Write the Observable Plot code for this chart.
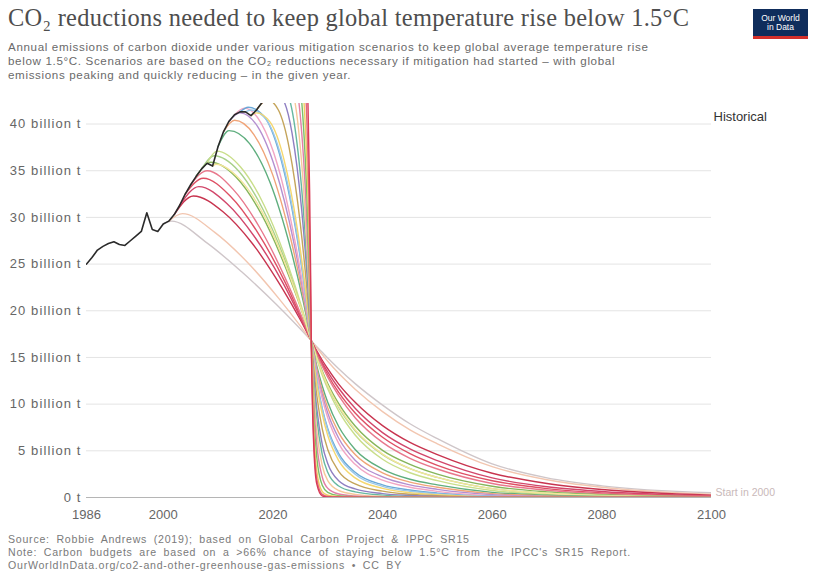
<!DOCTYPE html>
<html><head><meta charset="utf-8">
<script src="https://cdn.jsdelivr.net/npm/d3@7"></script>
<script src="https://cdn.jsdelivr.net/npm/@observablehq/plot@0.6"></script>
<style>
html,body{margin:0;padding:0;background:#fff;}
#wrap{position:relative;width:816px;height:575px;overflow:hidden;font-family:"Liberation Sans",Arial,sans-serif;}
#title{position:absolute;left:8px;top:4px;font-family:"Liberation Serif","DejaVu Serif",serif;font-size:24.4px;letter-spacing:0.3px;color:#4e4e4e;white-space:nowrap;}
#sub{position:absolute;left:8px;top:40px;font-size:11.6px;letter-spacing:0.65px;line-height:14px;color:#6a6a6a;white-space:nowrap;}
#logo{position:absolute;left:753px;top:9px;width:55px;height:30px;background:#0f2d5c;color:#fff;font-size:8.5px;line-height:9px;text-align:center;box-sizing:border-box;padding-top:5px;border-bottom:3px solid #d4302b;}
#chart{position:absolute;left:0;top:95px;}
#foot{position:absolute;left:8px;top:533px;font-size:10.6px;letter-spacing:0.75px;word-spacing:3px;line-height:13px;color:#7a7a7a;white-space:nowrap;}
</style></head>
<body>
<div id="wrap">
<div id="title">CO₂ reductions needed to keep global temperature rise below 1.5°C</div>
<div id="sub">Annual emissions of carbon dioxide under various mitigation scenarios to keep global average temperature rise<br>below 1.5°C. Scenarios are based on the CO₂ reductions necessary if mitigation had started – with global<br>emissions peaking and quickly reducing – in the given year.</div>
<div id="logo">Our World<br>in Data</div>
<div id="chart"></div>
<div id="foot">Source: Robbie Andrews (2019); based on Global Carbon Project &amp; IPPC SR15<br>Note: Carbon budgets are based on a &gt;66% chance of staying below 1.5°C from the IPCC's SR15 Report.<br>OurWorldInData.org/co2-and-other-greenhouse-gas-emissions • CC BY</div>
</div>
<script>
// Historical emissions (billion tonnes CO2)
const histYears = d3.range(1986, 2019);
const histValues = [25.0,25.7,26.5,26.9,27.2,27.4,27.1,27.0,27.5,28.0,28.5,30.5,28.7,28.5,29.3,29.6,30.3,31.3,32.5,33.5,34.4,35.2,35.8,35.5,37.6,39.2,40.3,41.0,41.3,41.3,40.9,41.5,42.3];

// Mitigation scenarios: [year, value]
const start2000 = [[2000,29.3],[2001.5,29.6],[2007.9,27.3],[2014.25,24.2],[2020.6,20.7],[2024.45,18.4],[2027,16.8],[2028,16.15],[2029,15.55],[2030,14.95],[2032,13.8],[2035,12.2],[2040,9.9],[2045,7.9],[2050,6.3],[2060,3.6],[2070,2.1],[2080,1.25],[2100,0.5]];
const start2001 = [[2001,29.6],[2003.5,30.4],[2009.4,28.4],[2015.25,25.25],[2021.1,21.3],[2024.65,18.65],[2027,16.8],[2028,16.05],[2029,15.3],[2030,14.6],[2032,13.3],[2035,11.6],[2040,9.2],[2045,7.25],[2050,5.75],[2060,3.3],[2070,1.9],[2080,1.1],[2100,0.35]];
const start2002 = [[2002,30.3],[2005.5,32.3],[2010.9,30.6],[2016.25,27.2],[2021.6,22.5],[2024.85,19.2],[2027,16.8],[2028,15.7],[2029,14.7],[2030,13.8],[2032,12.15],[2035,10.2],[2040,7.7],[2045,5.9],[2050,4.6],[2060,2.6],[2070,1.5],[2080,0.85],[2100,0.25]];
const start2003 = [[2003,31.3],[2006.5,33.3],[2011.6,31.5],[2016.75,27.85],[2021.9,22.9],[2024.95,19.35],[2027,16.8],[2028,15.55],[2029,14.45],[2030,13.45],[2032,11.7],[2035,9.55],[2040,6.95],[2045,5.2],[2050,3.95],[2060,2.1],[2070,1.15],[2080,0.65],[2100,0.18]];
const start2004 = [[2004,32.5],[2007.3,34.2],[2012.2,32.3],[2017.15,28.45],[2022.1,23.2],[2025,19.5],[2027,16.8],[2028,15.45],[2029,14.25],[2030,13.15],[2032,11.25],[2035,9.05],[2040,6.45],[2045,4.7],[2050,3.45],[2060,1.8],[2070,0.95],[2080,0.5],[2100,0.14]];
const start2005 = [[2005,33.5],[2008,35.0],[2012.75,33.0],[2017.5,29.0],[2022.25,23.5],[2025.1,19.6],[2027,16.8],[2028,15.35],[2029,14.05],[2030,12.9],[2032,10.9],[2035,8.55],[2040,5.9],[2045,4.2],[2050,3.05],[2060,1.5],[2070,0.78],[2080,0.4],[2100,0.1]];
const start2006 = [[2006,34.4],[2008.7,35.9],[2013.3,34.3],[2017.85,30.4],[2022.4,24.5],[2025.2,20.1],[2027,16.8],[2028,15.05],[2029,13.55],[2030,12.2],[2032,10.05],[2035,7.65],[2040,5.05],[2045,3.55],[2050,2.5],[2060,1.2],[2070,0.6],[2080,0.3],[2100,0.07]];
const start2007 = [[2007,35.2],[2009.3,36.6],[2013.7,35.0],[2018.15,30.9],[2022.6,24.8],[2025.25,20.2],[2027,16.8],[2028,14.95],[2029,13.35],[2030,11.95],[2032,9.65],[2035,7.15],[2040,4.6],[2045,3.1],[2050,2.15],[2060,0.95],[2070,0.45],[2080,0.22],[2100,0.05]];
const start2008 = [[2008,35.8],[2009.8,37.1],[2014.1,35.4],[2018.4,31.3],[2022.7,25.0],[2025.3,20.3],[2027,16.8],[2028,14.85],[2029,13.1],[2030,11.65],[2032,9.25],[2035,6.7],[2040,4.1],[2045,2.65],[2050,1.8],[2060,0.75],[2070,0.33],[2080,0.15],[2100,0.03]];
const start2009 = [[2009,35.5],[2009.6,35.7],[2013.95,34.1],[2018.3,30.3],[2022.65,24.4],[2025.25,20.05],[2027,16.8],[2028,15.0],[2029,13.4],[2030,12.0],[2032,9.75],[2035,7.25],[2040,4.65],[2045,3.1],[2050,2.15],[2060,0.95],[2070,0.46],[2080,0.22],[2100,0.05]];
const start2010 = [[2010,37.6],[2012,39.3],[2015.75,37.9],[2019.5,33.7],[2023.25,26.6],[2025.5,21.1],[2027,16.8],[2028,14.1],[2029,11.95],[2030,10.2],[2032,7.6],[2035,5.15],[2040,3.05],[2045,1.95],[2050,1.35],[2060,0.55],[2070,0.24],[2080,0.1],[2100,0.02]];
const start2011 = [[2011,39.2],[2013,40.4],[2016.5,38.9],[2020,34.5],[2023.5,27.1],[2025.6,21.3],[2027,16.8],[2028,13.8],[2029,11.45],[2030,9.6],[2032,6.95],[2035,4.6],[2040,2.65],[2045,1.65],[2050,1.1],[2060,0.42],[2070,0.17],[2080,0.07],[2100,0.01]];
const start2012 = [[2012,40.3],[2014,41.2],[2017.25,39.7],[2020.5,35.1],[2023.75,27.5],[2025.7,21.45],[2027,16.8],[2028,13.5],[2029,11.0],[2030,9.05],[2032,6.35],[2035,4.0],[2040,2.2],[2045,1.35],[2050,0.87],[2060,0.3],[2070,0.12],[2080,0.05],[2100,0.01]];
const start2013 = [[2013,41.0],[2014.8,41.7],[2017.85,40.1],[2020.9,35.5],[2023.95,27.7],[2025.8,21.5],[2027,16.8],[2028,13.25],[2029,10.6],[2030,8.55],[2032,5.8],[2035,3.55],[2040,1.85],[2045,1.1],[2050,0.66],[2060,0.2],[2070,0.08],[2080,0.04],[2100,0]];
const start2014 = [[2014,41.3],[2015.5,41.8],[2018.4,40.8],[2021.25,36.7],[2024.1,28.9],[2025.85,22.2],[2027,16.8],[2027.5,14.5],[2028,12.55],[2029,9.55],[2030,7.4],[2032,4.7],[2035,2.7],[2040,1.35],[2045,0.8],[2050,0.47],[2060,0.13],[2070,0.05],[2080,0.02],[2100,0]];
const start2015 = [[2015,41.3],[2016,41.5],[2018.75,40.5],[2021.5,36.5],[2024.25,28.75],[2025.9,22.1],[2027,16.8],[2027.5,14.45],[2028,12.45],[2029,9.4],[2030,7.2],[2032,4.45],[2035,2.5],[2040,1.2],[2045,0.67],[2050,0.39],[2060,0.1],[2070,0.04],[2080,0.015],[2100,0]];
const start2016 = [[2016,40.9],[2017,41.2],[2019.5,40.2],[2022,36.25],[2024.5,28.6],[2026,22.05],[2027,16.8],[2027.5,14.25],[2028,12.15],[2029,8.9],[2030,6.65],[2032,3.95],[2035,2.1],[2040,0.98],[2045,0.52],[2050,0.3],[2060,0.07],[2070,0.03],[2080,0.01],[2100,0]];
const start2017 = [[2017,41.5],[2019,42.6],[2021,41.5],[2023,37.35],[2025,29.3],[2026.2,22.35],[2027,16.8],[2027.5,13.5],[2028,10.95],[2029,7.35],[2030,5.15],[2032,2.8],[2035,1.45],[2040,0.68],[2045,0.35],[2050,0.19],[2060,0.05],[2070,0.01],[2100,0]];
const start2018 = [[2018,42.3],[2020,43.4],[2021.75,42.7],[2023.5,39.0],[2025.25,30.8],[2026.3,23.2],[2027,16.8],[2027.5,12.6],[2028,9.55],[2029,5.7],[2030,3.65],[2032,1.8],[2035,0.92],[2040,0.42],[2045,0.21],[2050,0.1],[2060,0.02],[2100,0]];
const start2019 = [[2018,42.3],[2019,43.0],[2021,44.2],[2022.5,43.45],[2024,39.7],[2025.5,31.25],[2026.4,23.4],[2027,16.8],[2027.5,11.85],[2028,8.5],[2029,4.6],[2030,2.7],[2032,1.23],[2035,0.6],[2040,0.25],[2045,0.11],[2050,0.05],[2060,0],[2100,0]];
const start2020 = [[2018,42.3],[2020,43.6],[2022,45.0],[2023.25,44.2],[2024.5,40.35],[2025.75,31.65],[2026.5,23.55],[2027,16.8],[2027.5,10.9],[2028,7.2],[2029,3.4],[2030,1.8],[2032,0.75],[2035,0.34],[2040,0.12],[2045,0.05],[2050,0.02],[2100,0]];
const start2021 = [[2018,42.3],[2021,44.2],[2023,45.6],[2024,44.8],[2025,40.85],[2026,32.0],[2026.6,23.7],[2027,16.8],[2027.5,9.7],[2028,5.75],[2029,2.2],[2030,1.0],[2032,0.38],[2035,0.16],[2040,0.05],[2045,0.01],[2100,0]];
const start2022 = [[2018,42.3],[2022,44.8],[2023.8,46.1],[2024.6,45.3],[2025.4,41.3],[2026.2,32.25],[2026.68,23.85],[2027,16.8],[2027.5,8.4],[2028,4.3],[2029,1.3],[2030,0.55],[2032,0.2],[2035,0.09],[2040,0.02],[2100,0]];
const start2023 = [[2018,42.3],[2023,45.4],[2024.5,46.5],[2025.1,45.7],[2025.75,41.6],[2026.4,32.45],[2026.75,23.95],[2027,16.8],[2027.5,6.8],[2028,2.85],[2029,0.63],[2030,0.24],[2032,0.1],[2035,0.04],[2040,0],[2100,0]];
const start2024 = [[2018,42.3],[2024,46.0],[2025.2,46.8],[2025.65,46.0],[2026.1,41.85],[2026.55,32.6],[2026.82,24.0],[2027,16.8],[2027.5,5.7],[2028,2.0],[2029,0.34],[2030,0.12],[2032,0.05],[2040,0],[2100,0]];
const start2025 = [[2018,42.3],[2025,46.6],[2025.8,47.0],[2026.1,46.2],[2026.4,42.0],[2026.7,32.7],[2026.88,24.05],[2027,16.8],[2027.5,4.9],[2028,1.45],[2029,0.17],[2030,0.04],[2040,0],[2100,0]];

const startYears = d3.range(2000, 2026);
const scenarios = [start2000,start2001,start2002,start2003,start2004,start2005,start2006,start2007,start2008,start2009,start2010,start2011,start2012,start2013,start2014,start2015,start2016,start2017,start2018,start2019,start2020,start2021,start2022,start2023,start2024,start2025];
const palette = ["#cfc6c9","#f2c6b0","#c8344f","#d2476b","#de5064","#e8788c","#86b55a","#a8d08a","#c9de8a","#f3e59a","#5fae7e","#f0a478","#b48fd0","#f2a6c4","#6aa8d8","#9cc9e8","#f5d76e","#c4a45a","#8f7fc2","#66b8a0","#f6c99a","#e27fa6","#7cbf6a","#f0d060","#e06a7a","#d83a56"];

const yTicks = [0,5,10,15,20,25,30,35,40];
const xTicks = [1986,2000,2020,2040,2060,2080,2100];
const labelHistorical = "Historical";
const labelStart = "Start in 2000";

const hist = histYears.map((y,i)=>({year:y, value:histValues[i]}));
const table = [];
scenarios.forEach((s,i)=>s.forEach(([y,v])=>table.push({start:startYears[i], year:y, value:v})));
const endFirst = start2000[start2000.length-1];

const chart = Plot.plot({
  width: 816, height: 430,
  marginLeft: 86, marginRight: 105, marginTop: 8, marginBottom: 28,
  style: {fontFamily: '"Liberation Sans", Arial, sans-serif', fontSize: "13px", color: "#666", background: "transparent"},
  x: {domain: [1986, 2100], ticks: xTicks, tickFormat: d => String(d), tickSize: 0, tickPadding: 12, label: null},
  y: {domain: [0, 42.2], ticks: yTicks, tickFormat: d => d === 0 ? "0 t" : d + " billion t", tickSize: 0, tickPadding: 5, label: null},
  color: {type: "ordinal", domain: startYears, range: palette},
  marks: [
    Plot.gridY(yTicks.filter(d=>d>0), {stroke: "#e4e4e4", strokeOpacity: 1}),
    Plot.ruleY([0], {stroke: "#b5b5b5"}),
    Plot.line(table, {x: "year", y: "value", z: "start", stroke: "start", curve: "monotone-x", strokeWidth: 1.4, clip: true}),
    Plot.line(hist, {x: "year", y: "value", stroke: "#2a2a2a", strokeWidth: 1.6, clip: true}),
    Plot.text([labelHistorical], {frameAnchor: "top-right", dx: 2, dy: 8, textAnchor: "start", fill: "#333", fontSize: 13}),
    Plot.text([endFirst], {x: d=>d[0], y: d=>d[1], text: () => labelStart, dx: 4, textAnchor: "start", fill: "#c9b9b9", fontSize: 10.5})
  ]
});
chart.querySelectorAll('[aria-label="y-axis tick label"] text').forEach(t => t.style.letterSpacing = "1.1px");
document.getElementById("chart").appendChild(chart);
</script>
</body></html>
